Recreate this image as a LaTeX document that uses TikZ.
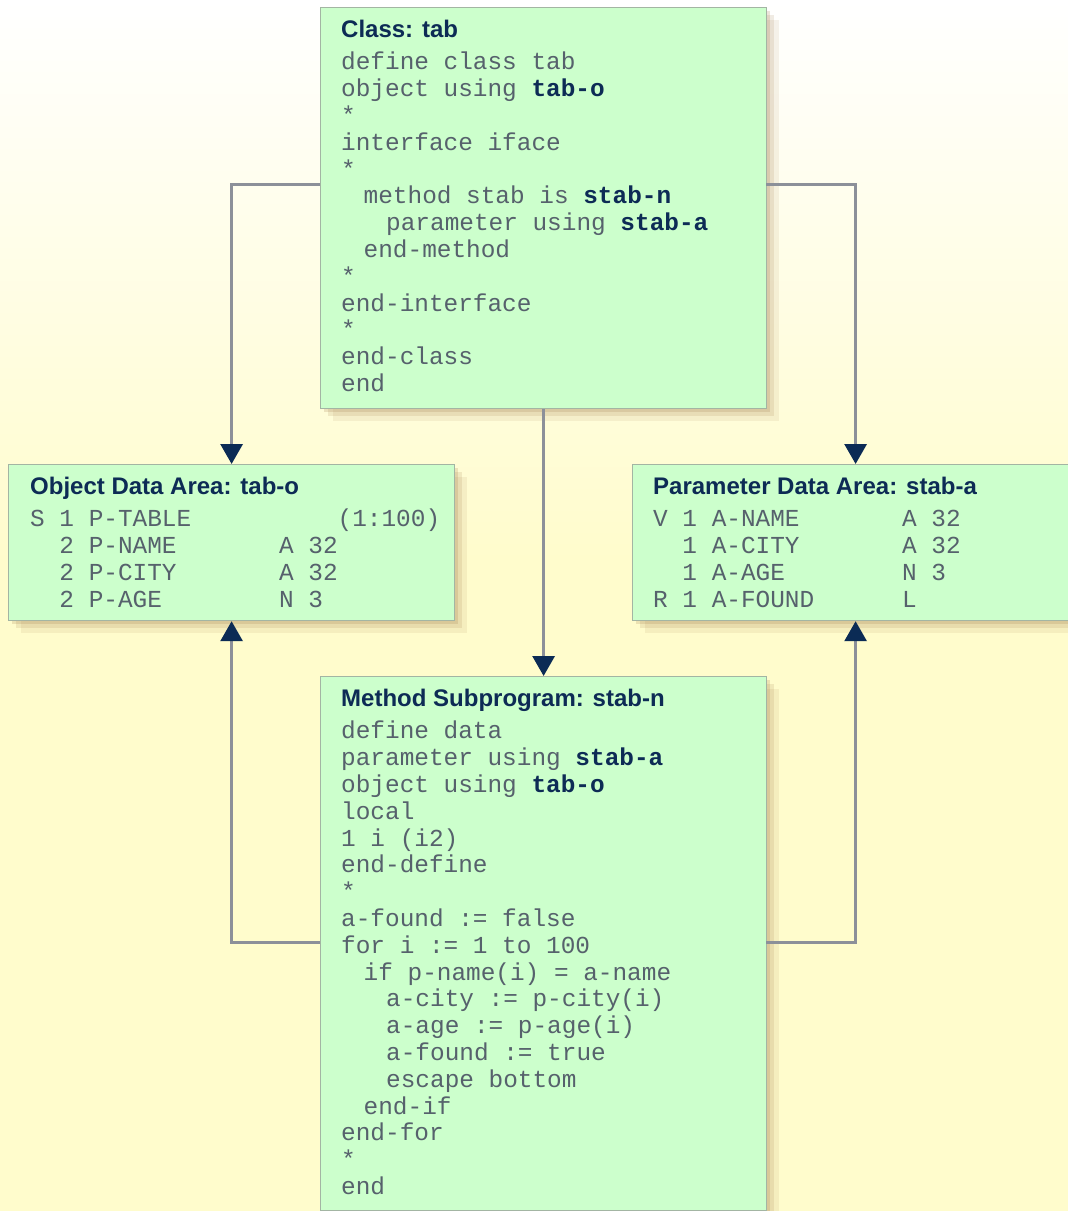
\documentclass[tikz,border=0pt]{standalone}
\usepackage{fontspec}
\usepackage{xcolor}
\usetikzlibrary{arrows.meta,calc,positioning,shadows}
\newfontfamily\headfont{Liberation Sans}
\newfontfamily\codefont{Liberation Mono}
\definecolor{boxgreen}{HTML}{CCFFCC}
\definecolor{boxline}{HTML}{A3B5A3}
\definecolor{linkgray}{HTML}{8C9099}
\definecolor{tipblue}{HTML}{0B2B55}
\definecolor{headblue}{HTML}{0D2B55}
\definecolor{codegray}{HTML}{56616C}
\definecolor{bgyellow}{HTML}{FFFCCC}
\definecolor{shadebrown}{HTML}{A07A4A}
\newcommand{\kw}[1]{\textbf{\color{headblue}#1}}
\newcommand{\ia}{\hspace*{22.5pt}}
\newcommand{\ib}{\hspace*{45pt}}

\begin{document}
\begin{tikzpicture}[x=1pt,y=1pt,
  box/.style={draw=boxline,line width=1.2pt,fill=boxgreen,minimum width=446pt,anchor=north west,inner sep=0pt,
    drop shadow={shadow xshift=12pt,shadow yshift=-12pt,fill=shadebrown,opacity=.10},
    drop shadow={shadow xshift=7pt,shadow yshift=-7pt,fill=shadebrown,opacity=.15},
    drop shadow={shadow xshift=3pt,shadow yshift=-3pt,fill=shadebrown,opacity=.2}},
  head/.style={anchor=base west,inner sep=0pt,font=\headfont\bfseries\fontsize{24}{26}\selectfont,text=headblue},
  code/.style={anchor=north west,inner sep=0pt,align=left,font=\codefont\fontsize{24.4}{26.8}\selectfont,text=codegray},
  link/.style={draw=linkgray,line width=3pt,-{Triangle[width=22pt,length=20pt,color=tipblue]}}]
\useasboundingbox (0,0) rectangle (1068,-1211);
% background
\shade[top color=white,bottom color=bgyellow] (0,0) rectangle (1068,-560);
\fill[bgyellow] (0,-560) rectangle (1068,-1211);

% boxes
\node[box,minimum height=401pt] (cls) at (320,-7) {};
\node[box,minimum height=156pt] (oda) at (8,-464) {};
\node[box,minimum height=156pt] (pda) at (632,-464) {};
\node[box,minimum height=534pt] (msp) at (320,-676) {};

% class
\node[head] (clsh) at ($(cls.north west)+(21,-30)$) {Class: tab};
\node[code,below right=44pt and 21pt of cls.north west] (clsc) {\strut define class tab\\
object using \kw{tab-o}\\
*\\
interface iface\\
*\\
\ia method stab is \kw{stab-n}\\
\ib parameter using \kw{stab-a}\\
\ia end-method\\
*\\
end-interface\\
*\\
end-class\\
end};

% object data area
\node[head] (odah) at ($(oda.north west)+(22,-30)$) {Object Data Area: tab-o};
\node[code,below right=44pt and 22pt of oda.north west] (odac) {\strut S 1 P-TABLE~~~~~~~~~~(1:100)\\
~~2 P-NAME~~~~~~~A 32\\
~~2 P-CITY~~~~~~~A 32\\
~~2 P-AGE~~~~~~~~N 3};

% parameter data area
\node[head] (pdah) at ($(pda.north west)+(21,-30)$) {Parameter Data Area: stab-a};
\node[code,below right=44pt and 21pt of pda.north west] (pdac) {\strut V 1 A-NAME~~~~~~~A 32\\
~~1 A-CITY~~~~~~~A 32\\
~~1 A-AGE~~~~~~~~N 3\\
R 1 A-FOUND~~~~~~L};

% method subprogram
\node[head] (msph) at ($(msp.north west)+(21,-30)$) {Method Subprogram: stab-n};
\node[code,below right=44pt and 21pt of msp.north west] (mspc) {\strut define data\\
parameter using \kw{stab-a}\\
object using \kw{tab-o}\\
local\\
1 i (i2)\\
end-define\\
*\\
a-found := false\\
for i := 1 to 100\\
\ia if p-name(i) = a-name\\
\ib a-city := p-city(i)\\
\ib a-age := p-age(i)\\
\ib a-found := true\\
\ib escape bottom\\
\ia end-if\\
end-for\\
*\\
end};

% connectors
\coordinate (cw) at (320,-184);
\coordinate (ce) at (766,-184);
\coordinate (mw) at (320,-942);
\coordinate (me) at (766,-942);
\draw[link] (cw) -| (oda.north);
\draw[link] (ce) -| (pda.north);
\draw[link] (cls.south) -- (msp.north);
\draw[link] (mw) -| (oda.south);
\draw[link] (me) -| (pda.south);
\end{tikzpicture}
\end{document}
